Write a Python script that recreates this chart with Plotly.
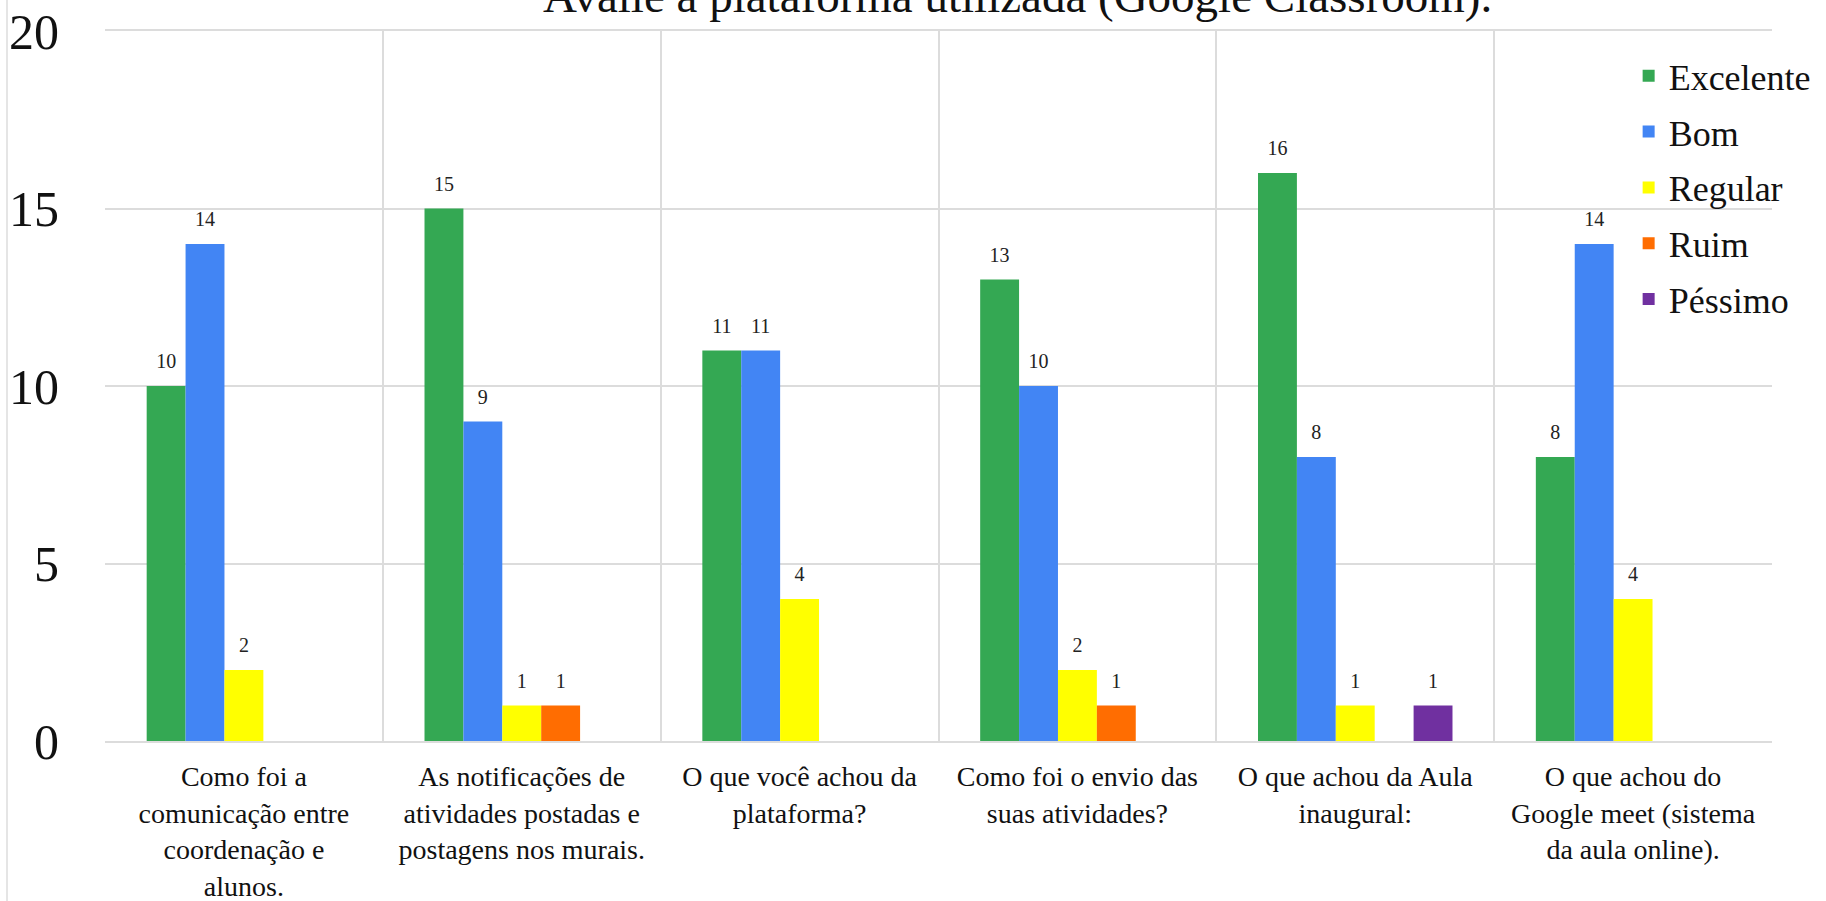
import plotly.graph_objects as go

categories = [
    "Como foi a<br>comunicação entre<br>coordenação e<br>alunos.",
    "As notificações de<br>atividades postadas e<br>postagens nos murais.",
    "O que você achou da<br>plataforma?",
    "Como foi o envio das<br>suas atividades?",
    "O que achou da Aula<br>inaugural:",
    "O que achou do<br>Google meet (sistema<br>da aula online).",
]
series_names = ["Excelente", "Bom", "Regular", "Ruim", "Péssimo"]
excelente = [10, 15, 11, 13, 16, 8]
bom = [14, 9, 11, 10, 8, 14]
regular = [2, 1, 4, 2, 1, 4]
ruim = [0, 1, 0, 1, 0, 0]
pessimo = [0, 0, 0, 0, 1, 0]
colors = ["#34A853", "#4285F4", "#FFFF00", "#FF6D01", "#7030A0"]
title_text = "Avalie a plataforma utilizada (Google Classroom)."
y_ticks = [0, 5, 10, 15, 20]

SERIF = "Liberation Serif"

fig = go.Figure()
for name, vals, col in zip(series_names, [excelente, bom, regular, ruim, pessimo], colors):
    fig.add_trace(go.Bar(
        name=name, x=categories, y=vals,
        marker=dict(color=col, line=dict(width=0)),
        text=[(f"<span style='font-size:20px'>{v}</span><br>\u00a0" if v else "") for v in vals],
        textposition="outside",
        constraintext="none",
        textfont=dict(family=SERIF, size=10, color="#222222"),
        cliponaxis=False,
        legendgroup=name,
    ))

fig.update_layout(
    width=1826, height=901,
    margin=dict(l=105, r=54, t=31, b=160, autoexpand=False),
    paper_bgcolor="white", plot_bgcolor="white",
    barmode="group", bargap=0.3, bargroupgap=0,
    font=dict(family=SERIF, color="#111111"),
    showlegend=True,
    legend=dict(
        x=0.914, y=0.979, xanchor="left", yanchor="top",
        bgcolor="rgba(0,0,0,0)", font=dict(family=SERIF, size=36, color="#111111"),
        tracegroupgap=6, itemsizing="constant",
    ),
    xaxis=dict(
        type="category", tickson="boundaries", showgrid=True, automargin=False,
        gridcolor="#dcdcdc", gridwidth=1.5, ticks="", showline=True,
        linecolor="#dcdcdc", linewidth=1.5, mirror=True,
        tickfont=dict(family=SERIF, size=28, color="#111111"),
        ticklabelstandoff=10,
    ),
    yaxis=dict(
        range=[0, 20], tickvals=y_ticks, showgrid=True, automargin=False,
        gridcolor="#dcdcdc", gridwidth=1.5, zeroline=False, ticks="",
        tickfont=dict(family=SERIF, size=50, color="#111111"),
        ticklabelstandoff=45,
    ),
    annotations=[dict(
        text=title_text, xref="paper", yref="paper",
        x=(1017 - 105) / 1667, y=1 + (31 - 12) / 710,
        xanchor="center", yanchor="bottom", yshift=-12, showarrow=False,
        font=dict(family=SERIF, size=47, color="#111111"),
    )],
    shapes=[dict(type="line", xref="paper", yref="paper",
                 x0=(7 - 105) / 1667, x1=(7 - 105) / 1667, y0=-1, y1=2,
                 line=dict(color="#dcdcdc", width=1.5))],
)

fig.write_html(
    "out.html",
    config={"displayModeBar": False},
    post_script="document.body.style.margin='0px';document.body.style.overflow='hidden';",
)
